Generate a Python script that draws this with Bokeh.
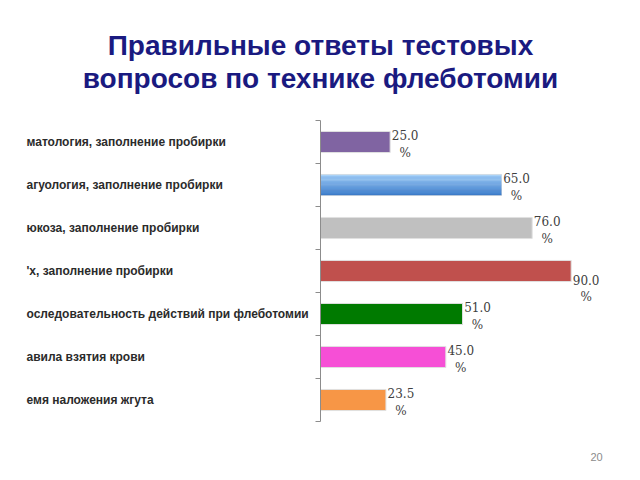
from bokeh.plotting import figure
from bokeh.models import Range1d
from bokeh.core.properties import value
from bokeh.embed import file_html
from bokeh.resources import INLINE

# ---- data ----
categories = [
    "матология, заполнение пробирки",
    "агуология, заполнение пробирки",
    "юкоза, заполнение пробирки",
    "'х,  заполнение пробирки",
    "оследовательность действий при флеботомии",
    "авила взятия крови",
    "емя наложения жгута",
]
values = [25.0, 65.0, 76.0, 90.0, 51.0, 45.0, 23.5]
bar_colors = ["#8064A2", "#5A9AE2", "#C0C0C0", "#C0504D", "#007A00", "#F64FD6", "#F79646"]
title_lines = ["Правильные ответы тестовых", "вопросов по технике флеботомии"]
page_number = "20"

# ---- layout helpers (pixel mapping) ----
W, H = 640, 480
X0 = 320.0          # pixel of value 0
KX = 2.785          # pixels per percent
Y0 = 141.5          # pixel of first category center
KY = 43.0           # pixels per category

def px_x(px):
    return (px - X0) / KX

def px_y(py):
    return (py - Y0) / KY

p = figure(width=W, height=H, output_backend="svg", toolbar_location=None,
           x_range=Range1d(px_x(0), px_x(W)), y_range=Range1d(px_y(H), px_y(0)),
           x_axis_type=None, y_axis_type=None, min_border=0)
p.outline_line_color = None
p.xgrid.visible = False
p.ygrid.visible = False
p.background_fill_color = "white"
p.border_fill_color = "white"

n = len(categories)
idx = list(range(n))

# bars
p.hbar(y=idx, left=0, right=values, height=0.49, fill_color=bar_colors,
       line_color="#E0E0E0", line_width=1)

# smooth vertical gradient on the blue bar (style overlay)
bi = 1
top = (0xA9, 0xD2, 0xF8)
bot = (0x3D, 0x7B, 0xC8)
steps = 16
hh = 0.47 / steps
for k in range(steps):
    t = k / (steps - 1)
    c = "#%02X%02X%02X" % tuple(int(round(a + (b - a) * t)) for a, b in zip(top, bot))
    p.hbar(y=[bi - 0.235 + hh * (k + 0.5)], left=0, right=[values[bi]], height=hh * 1.05,
           fill_color=c, line_color=None)

# axis line and ticks
p.segment(x0=[0], y0=[-0.5], x1=[0], y1=[n - 0.5], line_color="#8C8C8C", line_width=1)
tick_y = [i - 0.5 for i in range(n + 1)]
p.segment(x0=[px_x(315)] * len(tick_y), y0=tick_y, x1=[0] * len(tick_y), y1=tick_y,
          line_color="#8C8C8C", line_width=1)

# category labels
p.text(x=[px_x(26)] * n, y=idx, text=categories, text_align="left",
       text_baseline="middle", text_font=value("Liberation Sans"),
       text_font_size="12px", text_font_style="bold", text_color="#2B2B2B")

# value labels
lab1 = ["%.1f" % v for v in values]
lab2 = ["%"] * n
dy1 = [-0.16 if v < 80 else 0.2 for v in values]
dy2 = [0.25 if v < 80 else 0.6 for v in values]
p.text(x=values, y=[i + d for i, d in zip(idx, dy1)], text=lab1, text_align="center",
       x_offset=15, text_baseline="middle", text_font=value("DejaVu Serif"),
       text_font_size="12px", text_color="#404040")
p.text(x=values, y=[i + d for i, d in zip(idx, dy2)], text=lab2, text_align="center",
       x_offset=15, text_baseline="middle", text_font=value("DejaVu Serif"),
       text_font_size="12px", text_color="#404040")

# title
p.text(x=[px_x(320), px_x(320)], y=[px_y(45), px_y(78)], text=title_lines,
       text_align="center", text_baseline="middle", text_font=value("Liberation Sans"),
       text_font_size="28px", text_font_style="bold", text_color="#1A1A80")

# page number
p.text(x=[px_x(596)], y=[px_y(456)], text=[page_number], text_align="center",
       text_baseline="middle", text_font=value("Liberation Sans"),
       text_font_size="11px", text_color="#8C8C8C")

open("out.html", "w").write(file_html(p, INLINE))
